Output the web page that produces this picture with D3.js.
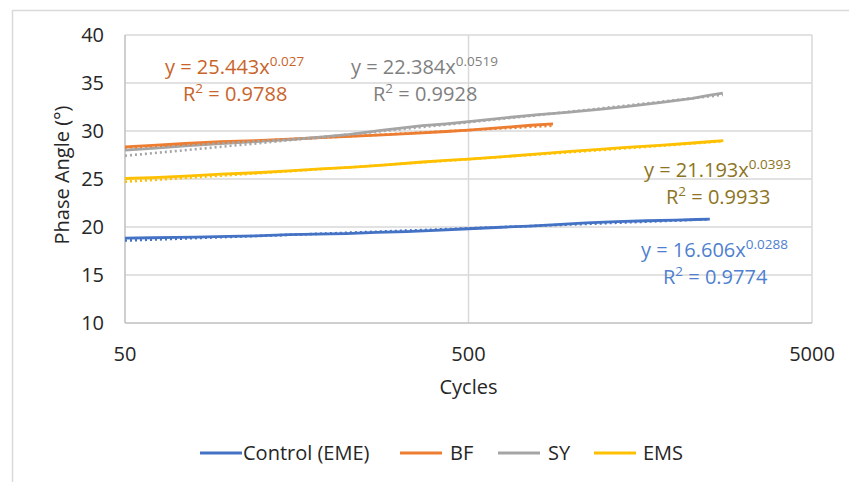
<!DOCTYPE html>
<html>
<head>
<meta charset="utf-8">
<script src="https://cdn.jsdelivr.net/npm/d3@7"></script>
<style>
  html, body { margin: 0; padding: 0; background: #fff; }
  svg { display: block; }
  text { font-family: "Open Sans", Lato, sans-serif; }
</style>
</head>
<body>
<svg id="chart" width="849" height="482"></svg>
<script>
// Phase angle vs loading cycles, four mixes
const seriesNames = ["Control (EME)", "BF", "SY", "EMS"];
const seriesColors = ["#4472C4", "#ED7D31", "#A5A5A5", "#FFC000"];
const labelColors = ["#4F7FD0", "#C8642A", "#7F7F7F", "#8C7422"];

const controlCycles = [50, 60, 70, 80, 100, 120, 150, 180, 220, 270, 330, 400, 500, 600, 750, 900, 1100, 1350, 1650, 2000, 2300, 2520];
const controlAngle  = [18.85, 18.88, 18.92, 18.95, 19.02, 19.08, 19.2, 19.25, 19.32, 19.45, 19.52, 19.65, 19.82, 19.95, 20.1, 20.25, 20.42, 20.55, 20.65, 20.72, 20.78, 20.82];

const bfCycles = [50, 60, 75, 95, 120, 150, 185, 226, 282, 367, 430, 500, 570, 648, 760, 881];
const bfAngle  = [28.35, 28.5, 28.7, 28.9, 29.0, 29.15, 29.3, 29.45, 29.6, 29.8, 29.95, 30.1, 30.25, 30.4, 30.6, 30.75];

const syCycles = [50, 60, 75, 95, 120, 150, 185, 226, 282, 367, 430, 500, 648, 800, 967, 1200, 1437, 1800, 2243, 2500, 2750];
const syAngle  = [28.0, 28.2, 28.45, 28.7, 28.9, 29.1, 29.35, 29.65, 30.1, 30.55, 30.75, 30.97, 31.4, 31.7, 31.95, 32.25, 32.55, 32.95, 33.4, 33.7, 33.95];

const emsCycles = [50, 60, 75, 95, 120, 150, 185, 226, 282, 367, 430, 500, 648, 800, 967, 1200, 1437, 1800, 2243, 2500, 2760];
const emsAngle  = [25.05, 25.15, 25.3, 25.5, 25.65, 25.85, 26.05, 26.22, 26.45, 26.77, 26.95, 27.08, 27.36, 27.62, 27.85, 28.08, 28.3, 28.5, 28.75, 28.88, 29.0];

// Power trendline fits y = a * x^b
const fitA = [16.606, 25.443, 22.384, 21.193];
const fitB = [0.0288, 0.027, 0.0519, 0.0393];
const fitR2 = ["0.9774", "0.9788", "0.9928", "0.9933"];
const fitAText = ["16.606", "25.443", "22.384", "21.193"];
const fitBText = ["0.0288", "0.027", "0.0519", "0.0393"];

const xTicks = [50, 500, 5000];
const yTicks = [10, 15, 20, 25, 30, 35, 40];

const series = [
  { cycles: controlCycles, values: controlAngle },
  { cycles: bfCycles, values: bfAngle },
  { cycles: syCycles, values: syAngle },
  { cycles: emsCycles, values: emsAngle }
];

const svg = d3.select("#chart");
const plot = { left: 125, right: 812, top: 35, bottom: 323 };
const FS = 20, SUP = 13.5;

// outer chart frame (top and left edges visible)
svg.append("path")
  .attr("d", "M12.5,482 V10.5 H849")
  .attr("fill", "none").attr("stroke", "#D9D9D9").attr("stroke-width", 1.5);

const x = d3.scaleLog().domain([50, 5000]).range([plot.left, plot.right]);
const y = d3.scaleLinear().domain([10, 40]).range([plot.bottom, plot.top]);

// horizontal gridlines
svg.append("g").selectAll("line").data(yTicks.filter(t => t > 10)).join("line")
  .attr("x1", plot.left).attr("x2", plot.right)
  .attr("y1", d => y(d)).attr("y2", d => y(d))
  .attr("stroke", "#D9D9D9").attr("stroke-width", 1.5);

// vertical gridlines
svg.append("g").selectAll("line").data(xTicks.filter(t => t > 50)).join("line")
  .attr("x1", d => x(d)).attr("x2", d => x(d))
  .attr("y1", plot.top).attr("y2", plot.bottom)
  .attr("stroke", "#D9D9D9").attr("stroke-width", 1.5);

// axis lines
svg.append("line")
  .attr("x1", plot.left).attr("x2", plot.left).attr("y1", plot.top).attr("y2", plot.bottom)
  .attr("stroke", "#BFBFBF").attr("stroke-width", 1.5);
svg.append("line")
  .attr("x1", plot.left).attr("x2", plot.right).attr("y1", plot.bottom).attr("y2", plot.bottom)
  .attr("stroke", "#BFBFBF").attr("stroke-width", 1.5);

// tick labels
svg.append("g").selectAll("text").data(yTicks).join("text")
  .attr("x", 104).attr("y", d => y(d) + 7)
  .attr("text-anchor", "end").attr("font-size", FS).attr("fill", "#262626")
  .text(d => d);
svg.append("g").selectAll("text").data(xTicks).join("text")
  .attr("x", d => x(d)).attr("y", 361)
  .attr("text-anchor", "middle").attr("font-size", FS).attr("fill", "#262626")
  .text(d => d);

// axis titles
svg.append("text")
  .attr("x", x(500)).attr("y", 394)
  .attr("text-anchor", "middle").attr("font-size", FS).attr("fill", "#262626")
  .text("Cycles");
svg.append("text")
  .attr("transform", `translate(69,${(plot.top + plot.bottom) / 2 - 4}) rotate(-90)`)
  .attr("text-anchor", "middle").attr("font-size", FS).attr("fill", "#262626")
  .text("Phase Angle (°)");

const line = d3.line().x(d => x(d[0])).y(d => y(d[1]));

// data lines
series.forEach((s, i) => {
  const pts = s.cycles.map((c, k) => [c, s.values[k]]);
  svg.append("path").datum(pts)
    .attr("d", line)
    .attr("fill", "none")
    .attr("stroke", seriesColors[i])
    .attr("stroke-width", 2.8)
    .attr("stroke-linejoin", "round");
});

// dotted power trendlines over each series' range
series.forEach((s, i) => {
  const c0 = s.cycles[0], c1 = s.cycles[s.cycles.length - 1];
  const xs = d3.range(0, 41).map(k => c0 * Math.pow(c1 / c0, k / 40));
  const pts = xs.map(c => [c, fitA[i] * Math.pow(c, fitB[i])]);
  svg.append("path").datum(pts)
    .attr("d", line)
    .attr("fill", "none")
    .attr("stroke", seriesColors[i])
    .attr("stroke-width", 2.6)
    .attr("stroke-dasharray", "2,3");
});

// trendline equations
const eqPos = [
  { ex: 641, ey: 257, rx: 663, ry: 284 },
  { ex: 165, ey: 74, rx: 183, ry: 101 },
  { ex: 351, ey: 74, rx: 373, ry: 101 },
  { ex: 644, ey: 177, rx: 666, ry: 204 }
];
eqPos.forEach((p, i) => {
  const eq = svg.append("text")
    .attr("x", p.ex).attr("y", p.ey)
    .attr("font-size", FS).attr("fill", labelColors[i]);
  eq.append("tspan").text(`y = ${fitAText[i]}x`);
  eq.append("tspan").attr("dy", -8).attr("font-size", SUP).text(fitBText[i]);

  const r2 = svg.append("text")
    .attr("x", p.rx).attr("y", p.ry)
    .attr("font-size", FS).attr("fill", labelColors[i]);
  r2.append("tspan").text("R");
  r2.append("tspan").attr("dy", -8).attr("font-size", SUP).text("2");
  r2.append("tspan").attr("dy", 8).text(" = " + fitR2[i]);
});

// legend
const legendItems = [
  { lx: 200, tx: 243 },
  { lx: 400, tx: 450 },
  { lx: 498, tx: 548 },
  { lx: 594, tx: 643 }
];
legendItems.forEach((p, i) => {
  svg.append("line")
    .attr("x1", p.lx).attr("x2", p.lx + 42)
    .attr("y1", 453).attr("y2", 453)
    .attr("stroke", seriesColors[i]).attr("stroke-width", 2.8);
  svg.append("text")
    .attr("x", p.tx).attr("y", 460)
    .attr("font-size", FS).attr("fill", "#262626")
    .text(seriesNames[i]);
});
</script>
</body>
</html>
